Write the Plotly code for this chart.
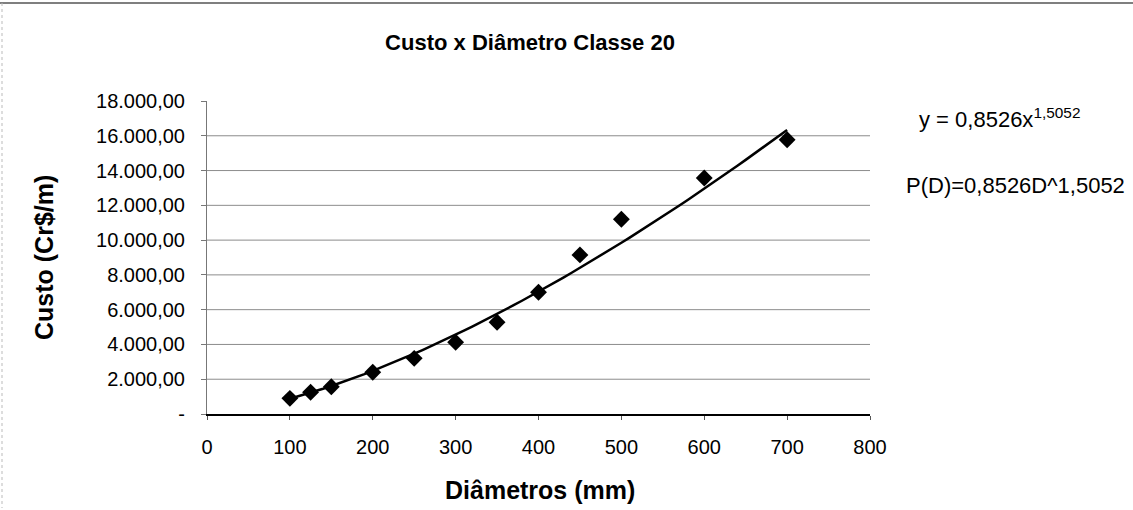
import plotly.graph_objects as go

# ---- data ----
diametros = [100, 125, 150, 200, 250, 300, 350, 400, 450, 500, 600, 700]
custo = [900, 1250, 1570, 2400, 3200, 4130, 5280, 7000, 9150, 11200, 13570, 15770]

# power trendline coefficients shown on the chart: y = A * x^B
coef_a = 0.8526
coef_b = 1.5052
trend_x = list(range(100, 701, 10))
trend_y = [coef_a * x ** coef_b for x in trend_x]

x_ticks = [0, 100, 200, 300, 400, 500, 600, 700, 800]
y_ticks = [0, 2000, 4000, 6000, 8000, 10000, 12000, 14000, 16000, 18000]
y_ticklabels = ["-", "2.000,00", "4.000,00", "6.000,00", "8.000,00", "10.000,00",
                "12.000,00", "14.000,00", "16.000,00", "18.000,00"]
grid_vals = [2000, 4000, 6000, 8000, 10000, 12000, 14000, 16000]

W, H = 1133, 510
PL, PR, PT, PB = 207, 870, 101, 414          # plot area in page pixels
L, R, T, B = PL, W - PR, PT, H - PB

def px(x):
    return (x - L) / (W - L - R)

def py(y):
    return (H - B - y) / (H - T - B)

FONT = "Liberation Sans, Arial, sans-serif"

fig = go.Figure()
fig.add_trace(go.Scatter(x=trend_x, y=trend_y, mode="lines",
                         line=dict(color="black", width=2.5),
                         hoverinfo="skip", showlegend=False))
fig.add_trace(go.Scatter(x=diametros, y=custo, mode="markers",
                         marker=dict(symbol="diamond", size=13, color="black"),
                         showlegend=False))

shapes = []
for g in grid_vals:
    shapes.append(dict(type="line", xref="paper", x0=0, x1=1, yref="y", y0=g, y1=g,
                       line=dict(color="#8c8c8c", width=1), layer="below"))
# chart frame top line and faint left edge
shapes.append(dict(type="line", xref="paper", yref="paper", x0=px(0), x1=px(1133),
                   y0=py(3), y1=py(3), line=dict(color="#555", width=1.5)))
shapes.append(dict(type="line", xref="paper", yref="paper", x0=px(2), x1=px(2),
                   y0=py(3), y1=py(508), line=dict(color="#bbb", width=1, dash="dot")))

annotations = [
    dict(text="y = 0,8526x<sup>1,5052</sup>", x=px(917), y=py(118), xref="paper", yref="paper",
         xanchor="left", yanchor="middle", showarrow=False,
         font=dict(family=FONT, size=22, color="black")),
    dict(text="P(D)=0,8526D^1,5052", x=px(904), y=py(185), xref="paper", yref="paper",
         xanchor="left", yanchor="middle", showarrow=False,
         font=dict(family=FONT, size=22, color="black")),
    dict(text="<b>Diâmetros (mm)</b>", x=px(540), y=py(490), xref="paper", yref="paper",
         xanchor="center", yanchor="middle", showarrow=False,
         font=dict(family=FONT, size=25, color="black")),
    dict(text="<b>Custo (Cr$/m)</b>", x=px(44), y=py(258), xref="paper", yref="paper",
         xanchor="center", yanchor="middle", showarrow=False, textangle=-90,
         font=dict(family=FONT, size=25, color="black")),
]

fig.update_layout(
    width=W, height=H,
    margin=dict(l=L, r=R, t=T, b=B, autoexpand=False),
    paper_bgcolor="white", plot_bgcolor="white",
    title=dict(text="<b>Custo x Diâmetro Classe 20</b>", x=px(530), xref="paper",
               xanchor="center", y=(H - 42) / H, yref="container", yanchor="middle",
               font=dict(family=FONT, size=22, color="black")),
    xaxis=dict(range=[0, 800], tickvals=x_ticks, ticktext=[str(v) for v in x_ticks],
               showgrid=False, zeroline=False, showline=True, linecolor="black", linewidth=1.5,
               ticks="outside", ticklen=4, tickcolor="#555",
               tickfont=dict(family=FONT, size=20, color="black"), ticklabelstandoff=10),
    yaxis=dict(range=[0, 18000], tickvals=y_ticks, ticktext=y_ticklabels,
               showgrid=False, zeroline=False, showline=True, linecolor="#777", linewidth=1,
               ticks="outside", ticklen=5, tickcolor="#777",
               tickfont=dict(family=FONT, size=20, color="black"), ticklabelstandoff=12),
    shapes=shapes, annotations=annotations,
    font=dict(family=FONT),
)

fig.write_html("out.html", config={"displayModeBar": False},
               post_script="document.body.style.margin='0px';")
